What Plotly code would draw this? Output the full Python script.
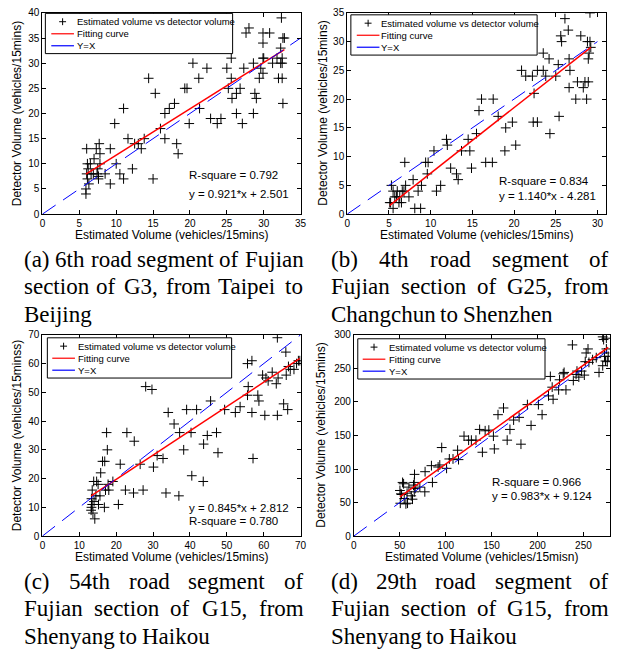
import plotly.graph_objects as go

# ---------------- data ----------------
A_X = [6.0, 6.1, 6.2, 6.0, 6.1, 6.5, 5.9, 5.9, 6.3, 6.6,
       7.0, 6.9, 7.3, 7.4, 7.5, 7.6, 7.7, 7.8, 7.8, 7.6,
       8.5, 9.2, 9.2, 9.8, 10.0, 10.5, 11.0, 11.0, 11.6, 12.2,
       12.5, 13.0, 13.4, 13.8, 14.4, 15.0, 15.3, 16.0, 16.6, 16.6,
       17.2, 17.9, 18.2, 18.4, 19.3, 19.6, 19.9, 20.4, 21.2, 21.3,
       22.3, 22.8, 23.7, 24.2, 25.0, 25.2, 25.6, 25.6, 25.7, 26.3,
       26.3, 26.8, 27.1, 27.3, 27.6, 28.0, 28.6, 28.6, 28.8, 29.0,
       29.4, 29.6, 29.9, 29.9, 29.9, 29.9, 30.0, 30.8, 31.2, 31.8,
       32.0, 32.3, 32.3, 32.4, 32.5, 32.5, 32.5, 32.6, 32.6, 32.8]
A_Y = [13, 10, 9, 8, 7, 10, 5, 4, 6, 8,
       11, 8, 13, 8, 9, 7, 14, 12, 10, 7.5,
       8, 13, 6, 18, 10, 8, 21, 7, 15, 9,
       14, 14, 13, 15, 27, 7, 24, 17, 20, 15,
       21, 22, 14, 12, 25, 25, 18, 30, 27, 21,
       29, 19, 18, 19, 29, 25, 31, 27, 23, 24,
       20, 25, 18, 29, 36, 37, 30, 20, 24, 23,
       27, 29, 36, 34, 31, 28, 31, 36, 30, 31,
       27, 33, 30, 39, 31, 27, 30, 35, 22, 35]

B_X = [5.3, 5.1, 5.5, 5.2, 5.5, 5.7, 6.0, 5.9, 6.2, 6.5,
       6.6, 6.3, 6.9, 7.0, 6.8, 7.4, 7.9, 8.1, 8.5, 8.8,
       8.9, 9.4, 9.7, 9.6, 10.4, 10.7, 11.2, 11.9, 12.0, 12.4,
       13.1, 13.3, 14.5, 14.7, 14.9, 13.7, 15.5, 15.8, 16.1, 16.6,
       17.4, 17.5, 18.1, 18.9, 19.0, 19.8, 20.2, 20.9, 21.4, 22.2,
       22.4, 22.3, 22.8, 22.8, 23.5, 23.5, 24.2, 23.8, 24.3, 25.0,
       25.3, 25.4, 25.6, 25.7, 26.1, 26.5, 26.6, 26.7, 26.6, 27.4,
       27.6, 28.0, 28.3, 28.5, 28.7, 28.8, 28.9, 28.9, 29.0, 29.1,
       29.1, 29.2]
B_Y = [5, 2, 1, 2, 4, 3, 4, 3, 2, 2,
       4, 3, 9, 5, 4, 3, 6, 1, 4, 1,
       5, 9, 9, 7, 11, 4, 5, 13, 12, 8,
       7, 6, 13, 11, 8, 11, 14, 18, 20, 9,
       9, 20, 17, 11, 15, 16, 12, 25, 24, 24,
       21, 16, 16, 25, 25, 28, 27, 24, 14, 24,
       26, 17, 31, 30, 34, 32, 27, 25, 22, 20,
       23, 31, 22, 23, 20, 30, 23, 27, 28, 35,
       30, 29]

C_X = [13.5, 13.3, 13.5, 13.3, 13.7, 13.9, 14.2, 14.5, 14.7, 15.1,
       15.2, 15.6, 15.8, 16.3, 16.9, 16.8, 17.1, 17.4, 17.6, 17.8,
       18.0, 19.1, 20.6, 21.1, 22.5, 22.9, 24.9, 24.7, 26.5, 27.3,
       28.0, 29.7, 30.1, 31.1, 32.7, 33.5, 34.1, 35.7, 37.2, 37.0,
       38.3, 39.1, 40.3, 40.5, 41.8, 43.6, 43.7, 44.7, 45.6, 47.2,
       47.6, 49.4, 52.3, 53.6, 55.6, 55.8, 55.6, 56.8, 56.8, 57.1,
       58.4, 58.7, 59.7, 60.3, 60.6, 61.2, 62.3, 63.4, 63.7, 63.9,
       63.7, 65.4, 66.0, 66.1, 66.5, 66.7, 67.2, 68.2, 68.9, 69.4,
       69.8, 13.2, 14.0]
C_Y = [16, 13, 11, 10, 8, 19, 6, 14, 19, 18,
       11, 14, 22, 26, 26, 10, 16, 36, 30, 18,
       16, 19, 11, 25, 16, 36, 33, 15, 25, 16,
       52, 51, 24, 28, 27, 15, 43, 39, 36, 14,
       30, 44, 36, 21, 44, 19, 32, 35, 47, 36,
       29, 44, 43, 45, 49, 52, 60, 61, 43, 27,
       49, 47, 56, 42, 55, 54, 57, 53, 42, 55,
       69, 46, 64, 56, 44, 59, 58, 58, 60, 61,
       61, 9, 12]

D_X = [50.2, 51.3, 50.6, 53.1, 54.2, 54.9, 56.7, 58.5, 60.0, 62.5,
       63.9, 65.0, 66.1, 65.8, 65.8, 66.8, 71.9, 77.3, 77.6, 84.5,
       85.6, 91.8, 93.6, 95.7, 101, 104, 108, 113, 114, 120,
       125, 128, 133, 137, 140, 143, 147, 152, 153, 157,
       163, 167, 170, 174, 180, 182, 189, 193, 201, 205,
       214, 212, 216, 217, 223, 224, 228, 229, 231, 238,
       239, 242, 243, 245, 248, 251, 252, 253, 255, 256,
       260, 264, 267, 271, 272, 273, 275, 274, 276, 273,
       275, 277, 271, 52, 58]
D_Y = [68, 63, 49, 80, 78, 56, 48, 49, 73, 60,
       55, 76, 92, 80, 66, 71, 73, 66, 96, 105,
       80, 103, 106, 132, 101, 115, 115, 128, 114, 149,
       143, 143, 143, 159, 125, 157, 158, 149, 130, 181,
       191, 143, 159, 173, 177, 137, 196, 165, 196, 181,
       238, 209, 222, 204, 218, 233, 242, 244, 218, 285,
       232, 241, 246, 237, 246, 240, 260, 273, 279, 259,
       263, 266, 244, 297, 293, 268, 279, 261, 260, 273,
       295, 268, 254, 62, 64]

SLOPES = [0.921, 1.140, 0.845, 0.983]
INTERCEPTS = [2.501, -4.281, 2.812, 9.124]
R_SQUARE = ["0.792", "0.834", "0.780", "0.966"]
FIT_TEXT = ["y = 0.921*x + 2.501", "y = 1.140*x - 4.281",
            "y = 0.845*x + 2.812", "y = 0.983*x + 9.124"]
DIAG_END = [35, 30, 70, 276]
X_RANGES = [[0, 35], [0, 31], [0, 70], [0, 279]]
Y_RANGES = [[0, 40], [0, 35], [0, 70], [0, 300]]
X_DTICK = [5, 5, 10, 50]
Y_DTICK = [5, 5, 10, 50]
X_TITLES = ["Estimated Volume (vehicles/15mins)", "Estimated Volume (vehicles/15mins)",
            "Estimated Volume (vehicles/15mins)", "Estimated Volume (vehicles/15misn)"]
Y_TITLES = ["Detector Volume (vehicles/15mins)", "Detector Volume (vehicles/15mins)",
            "Detector Volume (vehicles/15minss)", "Detector Volume (vehicles/15mins)"]
LEGEND_LABELS = ["Estimated volume vs detector volume", "Fitting curve", "Y=X"]
CAPTIONS = [
    ["(a) 6th road segment of Fujian", "section of G3, from Taipei to", "Beijing"],
    ["(b) 4th road segment of", "Fujian section of G25, from", "Changchun to Shenzhen"],
    ["(c) 54th road segment of", "Fujian section of G15, from", "Shenyang to Haikou"],
    ["(d) 29th road segment of", "Fujian section of G15, from", "Shenyang to Haikou"],
]
XS = [A_X, B_X, C_X, D_X]
YS = [A_Y, B_Y, C_Y, D_Y]

# ---------------- layout geometry (pixels) ----------------
W, H = 619, 654
def px(x):
    return x / W
def py(y):
    return 1 - y / H

# plot boxes: left, right, top, bottom
BOXES = [(40, 302, 7, 212), (349.3, 611.7, 7, 212), (40, 302, 335, 540), (356, 616, 335, 540)]
YTITLE_X = [15, 325, 15, 323]
STATS = [(189, 172, 192, True), (503, 178, 193.5, True), (189, 511, 524.5, False), (496, 484.5, 499.5, True)]
# legend boxes: x0, x1, top, sample start, text start
LEG = [(43, 233, 7.5, 49, 75), (353, 542, 9, 359, 384), (45, 232, 338, 50, 76), (360, 550, 339, 365, 391.7)]

TIMES = {'(': 333, ')': 333, ' ': 250, ',': 250,
         'a': 444, 'b': 500, 'c': 444, 'd': 500, 'e': 444, 'f': 333, 'g': 500, 'h': 500,
         'i': 278, 'j': 278, 'k': 500, 'l': 278, 'm': 778, 'n': 500, 'o': 500, 'p': 500,
         'q': 500, 'r': 333, 's': 389, 't': 278, 'u': 500, 'v': 500, 'w': 722, 'x': 500,
         'y': 500, 'z': 444, 'B': 667, 'C': 667, 'F': 556, 'G': 722, 'H': 722, 'S': 556,
         'T': 611}
for dgt in "0123456789":
    TIMES[dgt] = 500
CAP_SIZE = 23
def twidth(s):
    return sum(TIMES.get(ch, 500) for ch in s) / 1000 * CAP_SIZE

CAP_COLS = [(21, 304), (332.5, 614), (21, 304), (332.5, 614)]
CAP_ROWS = [(258, 286, 314), (258, 286, 314), (586, 614, 642), (586, 614, 642)]

fig = go.Figure()
annotations = []
shapes = []
layout = {}

tickfont = dict(family="Liberation Sans, Arial", size=10, color="black")
for i in range(4):
    n = i + 1
    xa = "x" if n == 1 else f"x{n}"
    ya = "y" if n == 1 else f"y{n}"
    L, R, T, B = BOXES[i]
    xs, ys = XS[i], YS[i]
    fig.add_trace(go.Scatter(x=xs, y=ys, mode="markers", xaxis=xa, yaxis=ya,
                             marker=dict(symbol="cross-thin", size=7, color="black",
                                         line=dict(color="black", width=1)),
                             showlegend=False, name=LEGEND_LABELS[0]))
    fx = [min(xs), max(xs)]
    fy = [SLOPES[i] * v + INTERCEPTS[i] for v in fx]
    fig.add_trace(go.Scatter(x=fx, y=fy, mode="lines", xaxis=xa, yaxis=ya,
                             line=dict(color="#ff0000", width=1.5),
                             showlegend=False, name=LEGEND_LABELS[1]))
    fig.add_trace(go.Scatter(x=[0, DIAG_END[i]], y=[0, DIAG_END[i]], mode="lines",
                             xaxis=xa, yaxis=ya,
                             line=dict(color="#0000ff", width=1, dash="16px,9px"),
                             showlegend=False, name=LEGEND_LABELS[2]))
    common = dict(ticks="inside", ticklen=4, tickcolor="black", tickwidth=1,
                  showline=True, linecolor="black", linewidth=1, mirror="allticks",
                  showgrid=False, zeroline=False, tickfont=tickfont, tick0=0)
    layout["xaxis" if n == 1 else f"xaxis{n}"] = dict(
        domain=[px(L), px(R)], range=X_RANGES[i], dtick=X_DTICK[i],
        anchor=ya, **common)
    layout["yaxis" if n == 1 else f"yaxis{n}"] = dict(
        domain=[py(B), py(T)], range=Y_RANGES[i], dtick=Y_DTICK[i],
        anchor=xa, **common)
    titlefont = dict(family="Liberation Sans, Arial", size=12, color="black")
    annotations.append(dict(x=px((L + R) / 2), y=py(B + 21), xref="paper", yref="paper",
                            text=X_TITLES[i], showarrow=False, font=titlefont,
                            xanchor="center", yanchor="middle"))
    annotations.append(dict(x=px(YTITLE_X[i]), y=py((T + B) / 2), xref="paper", yref="paper",
                            text=Y_TITLES[i], showarrow=False, font=titlefont, textangle=-90,
                            xanchor="center", yanchor="middle"))
    sx, sy1, sy2, r_first = STATS[i]
    rtxt = "R-square = " + R_SQUARE[i]
    lines = (rtxt, FIT_TEXT[i]) if r_first else (FIT_TEXT[i], rtxt)
    for t, yy in zip(lines, (sy1, sy2)):
        annotations.append(dict(x=px(sx), y=py(yy), xref="paper", yref="paper", text=t,
                                showarrow=False, xanchor="left", yanchor="middle",
                                borderpad=0, borderwidth=0,
                                font=dict(family="Liberation Sans, Arial", size=11.5, color="black")))
    # legend box
    lx0, lx1, ly0, s0, tx = LEG[i]
    ly1 = ly0 + 41
    shapes.append(dict(type="rect", xref="paper", yref="paper", x0=px(lx0), x1=px(lx1),
                       y0=py(ly1), y1=py(ly0), line=dict(color="black", width=1),
                       fillcolor="white", layer="above"))
    rows = [ly0 + 8.5, ly0 + 20.8, ly0 + 33]
    s1 = s0 + 23
    cx = (s0 + s1) / 2
    shapes.append(dict(type="line", xref="paper", yref="paper", x0=px(cx - 3.5), x1=px(cx + 3.5),
                       y0=py(rows[0]), y1=py(rows[0]), line=dict(color="black", width=1), layer="above"))
    shapes.append(dict(type="line", xref="paper", yref="paper", x0=px(cx), x1=px(cx),
                       y0=py(rows[0] - 3.5), y1=py(rows[0] + 3.5), line=dict(color="black", width=1), layer="above"))
    shapes.append(dict(type="line", xref="paper", yref="paper", x0=px(s0), x1=px(s1),
                       y0=py(rows[1]), y1=py(rows[1]), line=dict(color="#ff0000", width=1.2), layer="above"))
    shapes.append(dict(type="line", xref="paper", yref="paper", x0=px(s0), x1=px(s1),
                       y0=py(rows[2]), y1=py(rows[2]), line=dict(color="#0000ff", width=1.2), layer="above"))
    for lab, ry in zip(LEGEND_LABELS, rows):
        annotations.append(dict(x=px(tx), y=py(ry), xref="paper", yref="paper", text=lab,
                                showarrow=False, xanchor="left", yanchor="middle",
                                borderpad=0, borderwidth=0,
                                font=dict(family="Liberation Sans, Arial", size=9.5, color="black")))
    # captions (justified like the source document)
    c0, c1 = CAP_COLS[i]
    for li, (line, ry) in enumerate(zip(CAPTIONS[i], CAP_ROWS[i])):
        words = line.split(" ")
        if li < 2 and len(words) > 1:
            total = sum(twidth(w) for w in words)
            gap = (c1 - c0 - total) / (len(words) - 1)
        else:
            gap = twidth(" ")
        xpos = c0
        for w in words:
            annotations.append(dict(x=px(xpos), y=py(ry), xref="paper", yref="paper", text=w,
                                    showarrow=False, xanchor="left", yanchor="middle",
                                    borderpad=0, borderwidth=0,
                                    font=dict(family="Liberation Serif, Times New Roman", size=CAP_SIZE,
                                              color="black")))
            xpos += twidth(w) + gap

fig.update_layout(width=W, height=H, margin=dict(l=0, r=0, t=0, b=0),
                  paper_bgcolor="white", plot_bgcolor="white", showlegend=False,
                  annotations=annotations, shapes=shapes, **layout)
fig.write_html("out.html", config={"displayModeBar": False},
               post_script="document.body.style.margin='0';document.body.style.padding='0';")
